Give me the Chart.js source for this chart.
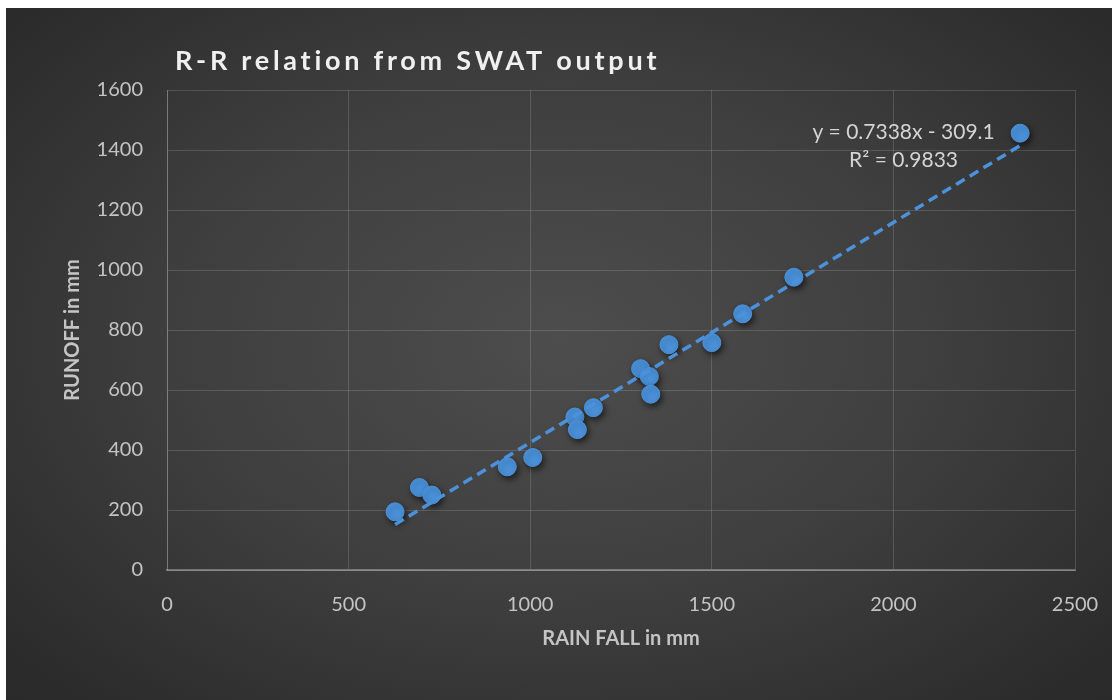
<!DOCTYPE html>
<html>
<head>
<meta charset="utf-8">
<script src="https://cdn.jsdelivr.net/npm/chart.js@4.4.1/dist/chart.umd.min.js"></script>
<style>
  html, body { margin: 0; padding: 0; background: #ffffff; }
  #panel {
    position: absolute; left: 6px; top: 8px; width: 1106px; height: 692px;
    background: radial-gradient(ellipse 75% 80% at 50% 48%, #4d4d4d 0%, #3f3f3f 45%, #2c2c2c 85%, #282828 100%);
  }
  canvas { display: block; }
</style>
</head>
<body>
<div id="panel"><canvas id="c" width="1106" height="692"></canvas></div>
<script>
// Annual rainfall (mm) against simulated runoff (mm)
const rainfall = [628, 695, 729, 937, 1007, 1123, 1130, 1174, 1304, 1328, 1332, 1382, 1500, 1585, 1726, 2349];
const runoff   = [194, 275, 250, 344, 375, 510, 468, 541, 671, 645, 586, 751, 758, 854, 976, 1456];

// Linear trend reported for the series
const trendSlope = 0.7338;
const trendIntercept = -309.1;
const trendR2 = 0.9833;

const xTicks = [0, 500, 1000, 1500, 2000, 2500];
const yTicks = [0, 200, 400, 600, 800, 1000, 1200, 1400, 1600];

const titleText = 'R-R relation from SWAT output';
const xTitle = 'RAIN FALL in mm';
const yTitle = 'RUNOFF in mm';

const points = rainfall.map((x, i) => ({ x: x, y: runoff[i] }));
const xMin = Math.min(...rainfall), xMax = Math.max(...rainfall);
const trend = [xMin, xMax].map(x => ({ x: x, y: trendSlope * x + trendIntercept }));

const blue = '#4b92db';
const tickColor = '#c4c4c4';
const gridColor = 'rgba(255,255,255,0.15)';

const decor = {
  id: 'decor',
  beforeDatasetDraw(chart, args) {
    if (args.index === 1) {
      const ctx = chart.ctx;
      ctx.save();
      ctx.shadowColor = 'rgba(0,0,0,0.6)';
      ctx.shadowBlur = 6;
      ctx.shadowOffsetX = 2;
      ctx.shadowOffsetY = 3;
    }
  },
  afterDatasetDraw(chart, args) {
    if (args.index === 1) chart.ctx.restore();
  },
  afterDraw(chart) {
    const ctx = chart.ctx;
    // chart title, spread to its full width
    ctx.save();
    ctx.font = 'bold 27px Lato';
    const plain = ctx.measureText(titleText).width;
    const spacing = (482 - plain) / (titleText.length - 1);
    ctx.letterSpacing = spacing.toFixed(2) + 'px';
    ctx.fillStyle = '#f0f0f0';
    ctx.textAlign = 'left';
    ctx.textBaseline = 'middle';
    ctx.fillText(titleText, 169, 53);
    ctx.restore();

    // trendline equation
    const xs = chart.scales.x, ys = chart.scales.y;
    const cx = xs.getPixelForValue(2028);
    const cy = ys.getPixelForValue(1460);
    ctx.save();
    ctx.font = '21px Lato';
    ctx.fillStyle = '#d4d4d4';
    ctx.textAlign = 'center';
    ctx.textBaseline = 'middle';
    ctx.fillText('y = ' + trendSlope.toFixed(4) + 'x - ' + Math.abs(trendIntercept).toFixed(1), cx, cy);
    ctx.fillText('R\u00B2 = ' + trendR2.toFixed(4), cx, cy + 28);
    ctx.restore();
  }
};

const plainNumber = v => String(v);

new Chart(document.getElementById('c'), {
  data: {
    datasets: [
      {
        type: 'line',
        data: trend,
        borderColor: blue,
        borderWidth: 3.5,
        borderDash: [10, 6],
        pointRadius: 0,
        fill: false,
        order: 0
      },
      {
        type: 'scatter',
        data: points,
        backgroundColor: blue,
        borderColor: blue,
        borderWidth: 1,
        pointRadius: 9,
        order: 1
      }
    ]
  },
  options: {
    responsive: false,
    animation: false,
    layout: { padding: { left: 0, top: 82, right: 37, bottom: 0 } },
    plugins: { legend: { display: false }, tooltip: { enabled: false }, title: { display: false } },
    scales: {
      x: {
        type: 'linear',
        min: 0, max: 2500,
        afterBuildTicks: s => { s.ticks = xTicks.map(v => ({ value: v })); },
        afterFit: s => { s.height = 130; s.paddingLeft = 0; s.paddingRight = 0; },
        grid: { color: gridColor, lineWidth: 1, drawTicks: false },
        border: { color: 'rgba(255,255,255,0.3)', width: 2 },
        ticks: { color: tickColor, font: { family: 'Lato', size: 20 }, padding: 23, callback: plainNumber },
        title: { display: true, text: xTitle, color: tickColor, font: { family: 'Lato', size: 20, weight: 'bold' }, padding: { top: 0, bottom: 49 } }
      },
      y: {
        type: 'linear',
        min: 0, max: 1600,
        afterBuildTicks: s => { s.ticks = yTicks.map(v => ({ value: v })); },
        afterFit: s => { s.width = 161; },
        grid: { color: gridColor, lineWidth: 1, drawTicks: false },
        border: { color: 'rgba(255,255,255,0.22)', width: 1 },
        ticks: { color: tickColor, font: { family: 'Lato', size: 20 }, padding: 24, callback: plainNumber },
        title: { display: true, text: yTitle, color: tickColor, font: { family: 'Lato', size: 20, weight: 'bold' }, padding: { top: 55, bottom: 0 } }
      }
    }
  },
  plugins: [decor]
});
</script>
</body>
</html>
